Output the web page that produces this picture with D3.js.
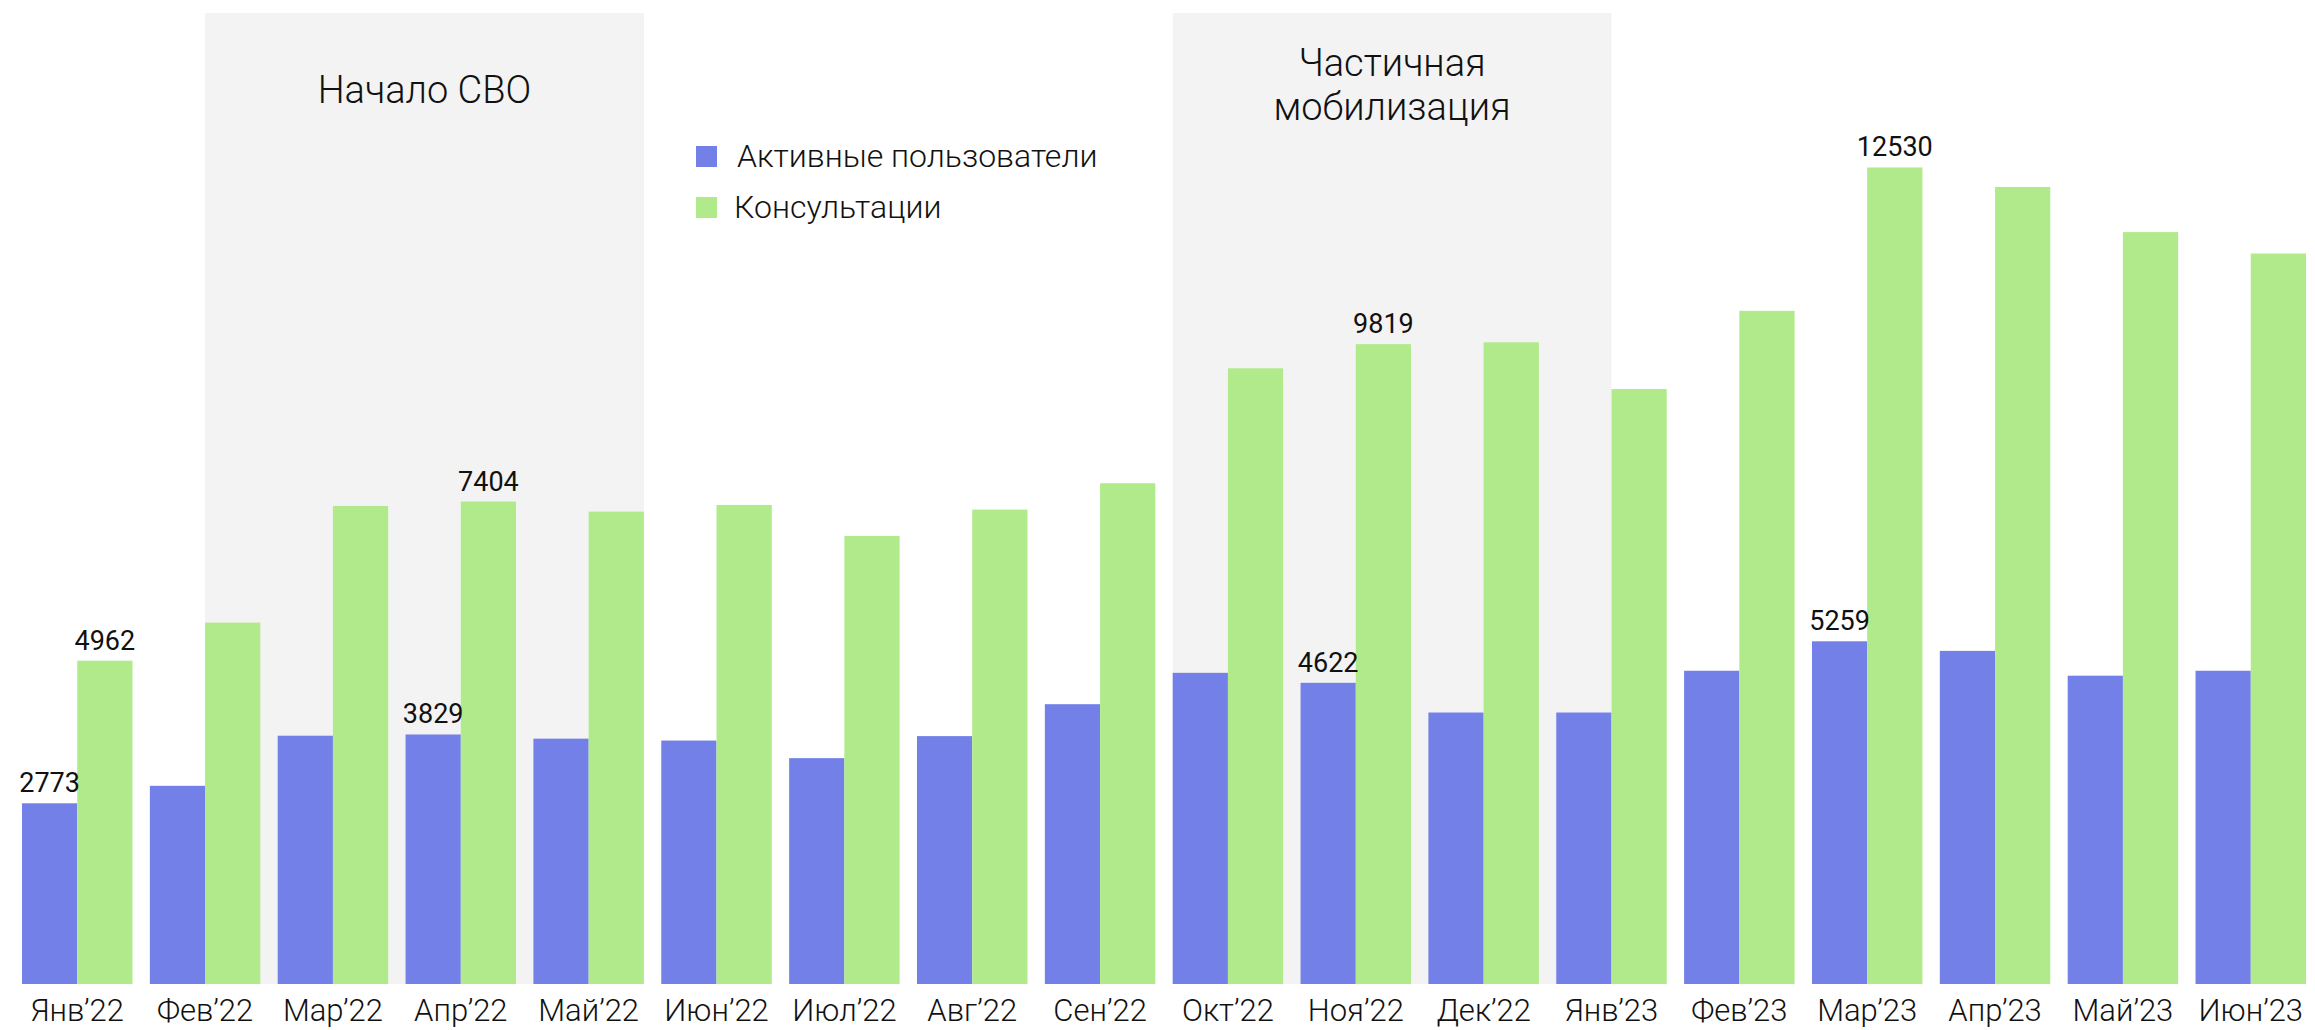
<!DOCTYPE html>
<html>
<head>
<meta charset="utf-8">
<script src="https://cdn.jsdelivr.net/npm/d3@7"></script>
<style>
  body { margin: 0; background: #fff; }
  text { font-family: Roboto, "Noto Sans", sans-serif; fill: #111; }
</style>
</head>
<body>
<div id="viz"></div>
<script>
"use strict";

const w = 2315;
const h = 1030;

// months on the x axis
const months = ["Янв’22", "Фев’22", "Мар’22", "Апр’22", "Май’22", "Июн’22", "Июл’22", "Авг’22", "Сен’22",
  "Окт’22", "Ноя’22", "Дек’22", "Янв’23", "Фев’23", "Мар’23", "Апр’23", "Май’23", "Июн’23"];

const seriesKeys = ["users", "consults"];
const seriesNames = ["Активные пользователи", "Консультации"];
const seriesColors = ["#7380e8", "#b0ea8a"];

const users = [2773, 3041, 3810, 3829, 3765, 3736, 3466, 3804, 4294, 4775, 4622, 4166, 4166, 4807, 5259, 5112, 4731, 4807];
const consults = [4962, 5546, 7336, 7404, 7249, 7351, 6876, 7280, 7684, 9448, 9819, 9847, 9130, 10330, 12530, 12231, 11538, 11210];

// which months get a value label
const labeledMonths = ["Янв’22", "Апр’22", "Ноя’22", "Мар’23"];

// shaded periods: from a bar of one month to a bar of another
const periods = [
  { lines: ["Начало СВО"], from: "Фев’22", fromKey: "consults", to: "Май’22", toKey: "consults" },
  { lines: ["Частичная", "мобилизация"], from: "Окт’22", fromKey: "users", to: "Янв’23", toKey: "users" }
];

const rows = months.map((m, i) => ({ month: m, users: users[i], consults: consults[i] }));

const svg = d3.select("#viz")
  .append("svg")
  .attr("width", w)
  .attr("height", h);

const x0 = d3.scaleBand()
  .domain(months)
  .range([22, 2306])
  .paddingInner(0.136)
  .paddingOuter(0);

const x1 = d3.scaleBand()
  .domain(seriesKeys)
  .range([0, x0.bandwidth()]);

const y = d3.scaleLinear()
  .domain([0, 15100])
  .range([984, 0]);

const color = d3.scaleOrdinal().domain(seriesKeys).range(seriesColors);

// shaded backgrounds
const shade = svg.append("g");
periods.forEach(p => {
  const left = x0(p.from) + x1(p.fromKey);
  const right = x0(p.to) + x1(p.toKey) + x1.bandwidth();
  shade.append("rect")
    .attr("x", left)
    .attr("y", 13)
    .attr("width", right - left)
    .attr("height", y(0) - 13)
    .attr("fill", "#f3f3f3");
  p.lines.forEach((line, i) => {
    shade.append("text")
      .attr("x", (left + right) / 2)
      .attr("y", p.lines.length === 1 ? 103 : 76 + i * 44)
      .attr("text-anchor", "middle")
      .style("font-size", "38px")
      .style("font-weight", 300)
      .text(line);
  });
});

// bars
const groups = svg.append("g")
  .selectAll("g")
  .data(rows)
  .join("g")
  .attr("transform", d => `translate(${x0(d.month)},0)`);

groups.selectAll("rect")
  .data(d => seriesKeys.map(k => ({ key: k, value: d[k], month: d.month })))
  .join("rect")
  .attr("x", d => x1(d.key))
  .attr("y", d => y(d.value))
  .attr("width", x1.bandwidth())
  .attr("height", d => y(0) - y(d.value))
  .attr("fill", d => color(d.key));

// value labels
groups.selectAll("text.val")
  .data(d => labeledMonths.includes(d.month) ? seriesKeys.map(k => ({ key: k, value: d[k] })) : [])
  .join("text")
  .attr("class", "val")
  .attr("x", d => x1(d.key) + x1.bandwidth() / 2)
  .attr("y", d => y(d.value) - 11)
  .attr("text-anchor", "middle")
  .style("font-size", "27px")
  .text(d => d.value);

// x axis labels
const xAxis = svg.append("g")
  .attr("transform", `translate(0,${y(0)})`)
  .call(d3.axisBottom(x0).tickSize(0).tickPadding(37));
xAxis.select(".domain").remove();
xAxis.selectAll("text")
  .attr("dy", 0)
  .style("font-size", "31px")
  .style("font-weight", 300)
  .style("font-family", "Roboto, sans-serif")
  .attr("fill", "#111");

// legend
const legend = svg.append("g")
  .selectAll("g")
  .data(seriesKeys)
  .join("g")
  .attr("transform", (d, i) => `translate(696,${146 + i * 51})`);

legend.append("rect")
  .attr("width", 21)
  .attr("height", 21)
  .attr("fill", d => color(d));

legend.append("text")
  .attr("x", (d, i) => i === 0 ? 41 : 38)
  .attr("y", 21)
  .style("font-size", "32px")
  .style("font-weight", 300)
  .text((d, i) => seriesNames[i]);
</script>
</body>
</html>
